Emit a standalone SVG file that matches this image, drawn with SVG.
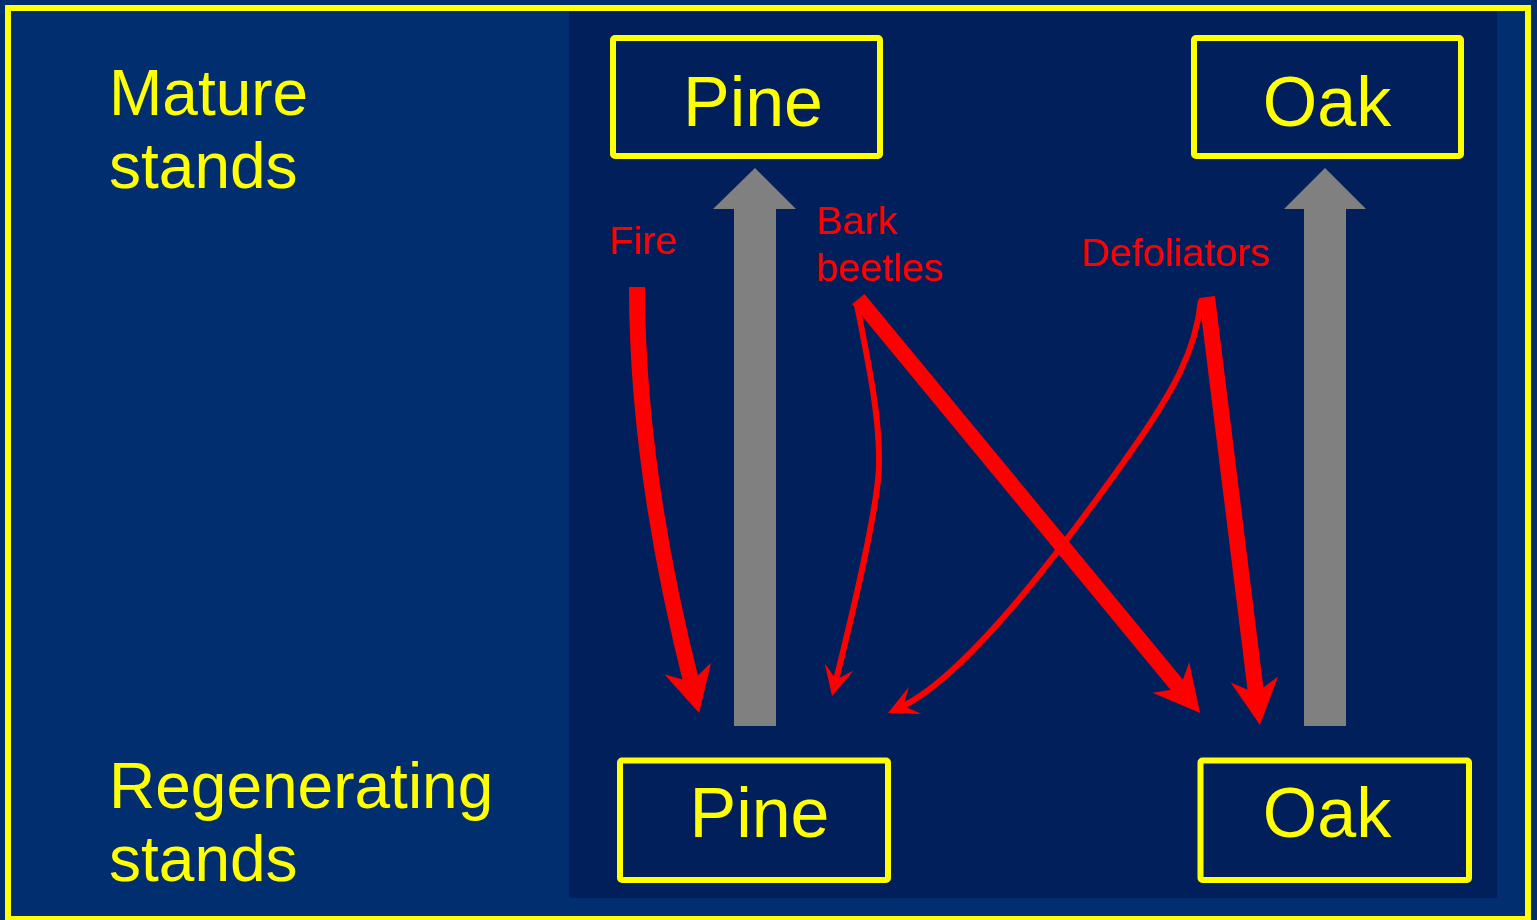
<svg xmlns="http://www.w3.org/2000/svg" width="1537" height="920" viewBox="0 0 1537 920">
  <style>
    .box { fill: none; stroke: #FFFF00; stroke-width: 6; }
    .node-label { font-family: "Liberation Sans", Arial, sans-serif; font-size: 70px; fill: #FFFF00; text-anchor: middle; }
    .row-label { font-family: "Liberation Sans", Arial, sans-serif; font-size: 64px; fill: #FFFF00; }
    .cause { font-family: "Liberation Sans", Arial, sans-serif; font-size: 39.5px; fill: #FF0000; }
    .thick { fill: none; stroke: #FF0000; stroke-width: 16; marker-end: url(#headBig); }
    .thin { fill: none; stroke: #FF0000; stroke-width: 6; marker-end: url(#headSmall); }
    .growth { fill: #808080; }
  </style>
  <defs>
    <!-- swept-back arrowheads; ref point sits just ahead of the notch so the shaft tucks under -->
    <marker id="headBig" viewBox="0 0 46 48" markerWidth="46" markerHeight="48" refX="17" refY="24" orient="auto" markerUnits="userSpaceOnUse">
      <path d="M0,0 L46,24 L0,48 L14,24 Z" fill="#FF0000"/>
    </marker>
    <marker id="headSmall" viewBox="0 0 30 30" markerWidth="30" markerHeight="30" refX="16" refY="15" orient="auto" markerUnits="userSpaceOnUse">
      <path d="M0,0 L30,15 L0,30 L13,15 Z" fill="#FF0000"/>
    </marker>
  </defs>

  <!-- backgrounds -->
  <rect x="0" y="0" width="1537" height="920" fill="#002E6E"/>
  <rect x="569" y="8" width="928" height="890" fill="#001F5B"/>
  <rect x="8" y="8" width="1520" height="911" fill="none" stroke="#FFFF00" stroke-width="6"/>

  <!-- row headings -->
  <g id="label-mature">
    <text class="row-label" x="109" y="115">Mature</text>
    <text class="row-label" x="109" y="188">stands</text>
  </g>
  <g id="label-regenerating">
    <text class="row-label" x="109" y="808">Regenerating</text>
    <text class="row-label" x="109" y="881">stands</text>
  </g>

  <!-- stand nodes -->
  <g id="mature-pine">
    <rect class="box" x="613" y="38" width="267" height="118" rx="2"/>
    <text class="node-label" x="753" y="126">Pine</text>
  </g>
  <g id="mature-oak">
    <rect class="box" x="1194" y="38" width="267" height="118" rx="2"/>
    <text class="node-label" x="1327" y="126">Oak</text>
  </g>
  <g id="regen-pine">
    <rect class="box" x="620" y="760.5" width="268" height="119.5" rx="2"/>
    <text class="node-label" x="759.5" y="837">Pine</text>
  </g>
  <g id="regen-oak">
    <rect class="box" x="1200.5" y="760.5" width="268.5" height="119.5" rx="2"/>
    <text class="node-label" x="1327" y="837">Oak</text>
  </g>

  <!-- disturbance labels -->
  <g id="cause-fire">
    <text class="cause" x="609" y="254">Fire</text>
  </g>
  <g id="cause-bark-beetles">
    <text class="cause" x="816" y="234">Bark</text>
    <text class="cause" x="816" y="281">beetles</text>
  </g>
  <g id="cause-defoliators">
    <text class="cause" x="1081" y="266">Defoliators</text>
  </g>

  <!-- connectors -->
  <g id="connectors">
    <!-- growth: regenerating to mature -->
    <polygon class="growth" points="734,726 734,209 713,209 755,168 796,209 776,209 776,726"/>
    <polygon class="growth" points="1304,726 1304,209 1284,209 1325,168 1366,209 1346,209 1346,726"/>
    <!-- disturbances: mature to regenerating -->
    <path class="thick" d="M637,287 Q637,468 692,685"/>
    <path class="thick" d="M858.3,299 L1181.6,690.6"/>
    <path class="thick" d="M1207,297 L1256.4,696.2"/>
    <path class="thin" d="M857,305 C870,370 880,420 879,465 C878,510 850,624 835.4,682.4"/>
    <path class="thin" d="M1201,300 C1196,350 1175,390 1125,460 C1085,516 973.3,673.6 900.7,707.1"/>
  </g>
</svg>
